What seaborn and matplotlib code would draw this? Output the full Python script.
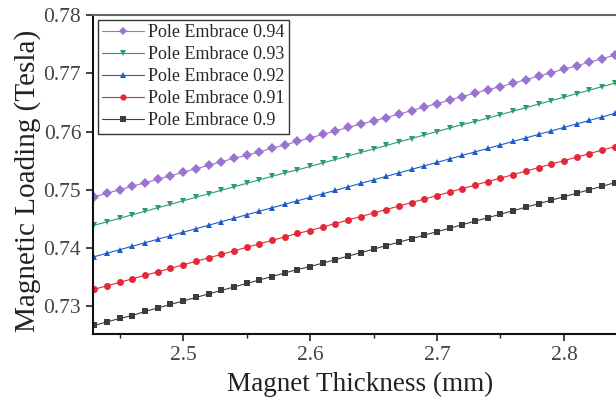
import numpy as np
import pandas as pd
import matplotlib
matplotlib.use('Agg')
import matplotlib.pyplot as plt
import seaborn as sns
from matplotlib.ticker import MultipleLocator

# thickness grid (mm)
thickness = np.round(np.arange(2.43, 2.845, 0.01), 2)

# magnetic loading (T)
pe_094 = [0.7488, 0.7494, 0.7500, 0.7506, 0.7512, 0.7518, 0.7524, 0.7530, 0.7536, 0.7542,
          0.7548, 0.7554, 0.7559, 0.7565, 0.7571, 0.7577, 0.7583, 0.7589, 0.7595, 0.7601,
          0.7607, 0.7613, 0.7618, 0.7624, 0.7630, 0.7636, 0.7642, 0.7648, 0.7654, 0.7660,
          0.7666, 0.7672, 0.7677, 0.7683, 0.7689, 0.7695, 0.7701, 0.7707, 0.7713, 0.7719,
          0.7725, 0.7731]
pe_093 = [0.7439, 0.7445, 0.7451, 0.7457, 0.7463, 0.7469, 0.7475, 0.7481, 0.7487, 0.7493,
          0.7499, 0.7505, 0.7511, 0.7517, 0.7523, 0.7529, 0.7534, 0.7540, 0.7546, 0.7552,
          0.7558, 0.7564, 0.7570, 0.7576, 0.7582, 0.7588, 0.7594, 0.7600, 0.7606, 0.7612,
          0.7617, 0.7623, 0.7629, 0.7635, 0.7641, 0.7647, 0.7653, 0.7659, 0.7665, 0.7671,
          0.7677, 0.7683]
pe_092 = [0.7385, 0.7391, 0.7397, 0.7403, 0.7409, 0.7415, 0.7421, 0.7427, 0.7433, 0.7439,
          0.7445, 0.7451, 0.7457, 0.7463, 0.7469, 0.7475, 0.7481, 0.7487, 0.7493, 0.7499,
          0.7505, 0.7511, 0.7517, 0.7523, 0.7529, 0.7535, 0.7541, 0.7547, 0.7553, 0.7559,
          0.7565, 0.7571, 0.7577, 0.7583, 0.7589, 0.7595, 0.7601, 0.7607, 0.7613, 0.7619,
          0.7625, 0.7631]
pe_091 = [0.7329, 0.7335, 0.7341, 0.7347, 0.7353, 0.7359, 0.7365, 0.7371, 0.7377, 0.7383,
          0.7389, 0.7395, 0.7401, 0.7407, 0.7413, 0.7419, 0.7425, 0.7430, 0.7436, 0.7442,
          0.7448, 0.7454, 0.7460, 0.7466, 0.7472, 0.7478, 0.7484, 0.7490, 0.7496, 0.7502,
          0.7508, 0.7514, 0.7520, 0.7526, 0.7532, 0.7538, 0.7544, 0.7550, 0.7556, 0.7562,
          0.7568, 0.7574]
pe_090 = [0.7267, 0.7273, 0.7279, 0.7284, 0.7291, 0.7297, 0.7303, 0.7309, 0.7315, 0.7321,
          0.7327, 0.7333, 0.7339, 0.7345, 0.7351, 0.7357, 0.7363, 0.7368, 0.7374, 0.7380,
          0.7386, 0.7392, 0.7398, 0.7404, 0.7410, 0.7416, 0.7422, 0.7428, 0.7434, 0.7440,
          0.7446, 0.7452, 0.7458, 0.7464, 0.7470, 0.7476, 0.7482, 0.7488, 0.7494, 0.7500,
          0.7506, 0.7512]

labels = ['Pole Embrace 0.94', 'Pole Embrace 0.93', 'Pole Embrace 0.92',
          'Pole Embrace 0.91', 'Pole Embrace 0.9']
series = [pe_094, pe_093, pe_092, pe_091, pe_090]

colors = ['#9b72cf', '#2a9d6a', '#1f5bc6', '#e3283a', '#3c3c3c']
marker_shapes = ['D', 'v', '^', 'o', 's']

df = pd.concat([pd.DataFrame({'thickness': thickness, 'loading': vals, 'label': lab})
                for lab, vals in zip(labels, series)], ignore_index=True)

sns.set_style('ticks')
plt.rcParams['font.family'] = ['Liberation Serif', 'DejaVu Serif']

fig = plt.figure(figsize=(6.16, 4.07), dpi=100)
ax = fig.add_axes([0.151, 0.179, 0.849, 0.784])

sns.lineplot(data=df, x='thickness', y='loading', hue='label', style='label',
             hue_order=labels, style_order=labels,
             palette=dict(zip(labels, colors)),
             markers=dict(zip(labels, marker_shapes)), dashes=False,
             linewidth=0.8, markersize=5, markeredgewidth=0, ax=ax)

ax.set_xlim(2.429, 2.841)
ax.set_ylim(0.7252, 0.78)
ax.xaxis.set_major_locator(MultipleLocator(0.1))
ax.xaxis.set_minor_locator(MultipleLocator(0.05))
ax.set_yticks([0.73, 0.74, 0.75, 0.76, 0.77, 0.78])

ax.tick_params(axis='both', which='major', direction='out', length=5, width=1.2,
               labelsize=15.5, labelcolor='#444444', color='#222222')
ax.tick_params(axis='x', which='minor', direction='out', length=3, width=1.0,
               color='#222222')

for side in ['left', 'bottom']:
    ax.spines[side].set_linewidth(1.5)
    ax.spines[side].set_color('#111111')
ax.spines['top'].set_linewidth(1.5)
ax.spines['top'].set_color('#666666')
ax.spines['right'].set_visible(False)

ax.set_xlabel('Magnet Thickness (mm)', fontsize=19.5, color='#222222', labelpad=5)
ax.set_ylabel('Magnetic Loading (Tesla)', fontsize=21, color='#222222', labelpad=2)
ax.xaxis.label.set_x(0.511)
ax.yaxis.label.set_y(0.48)

leg = ax.legend(loc='upper left', bbox_to_anchor=(0.0, 1.0), fontsize=13, frameon=True,
                fancybox=False, edgecolor='#333333', framealpha=1,
                handlelength=2.3, handletextpad=0.25, labelspacing=0.28,
                borderpad=0.25, borderaxespad=0.25)
leg.get_frame().set_linewidth(1.0)
for h in leg.legend_handles:
    h.set_markersize(4.5)
    h.set_linewidth(0.8)

fig.savefig('out.png', dpi=100)
